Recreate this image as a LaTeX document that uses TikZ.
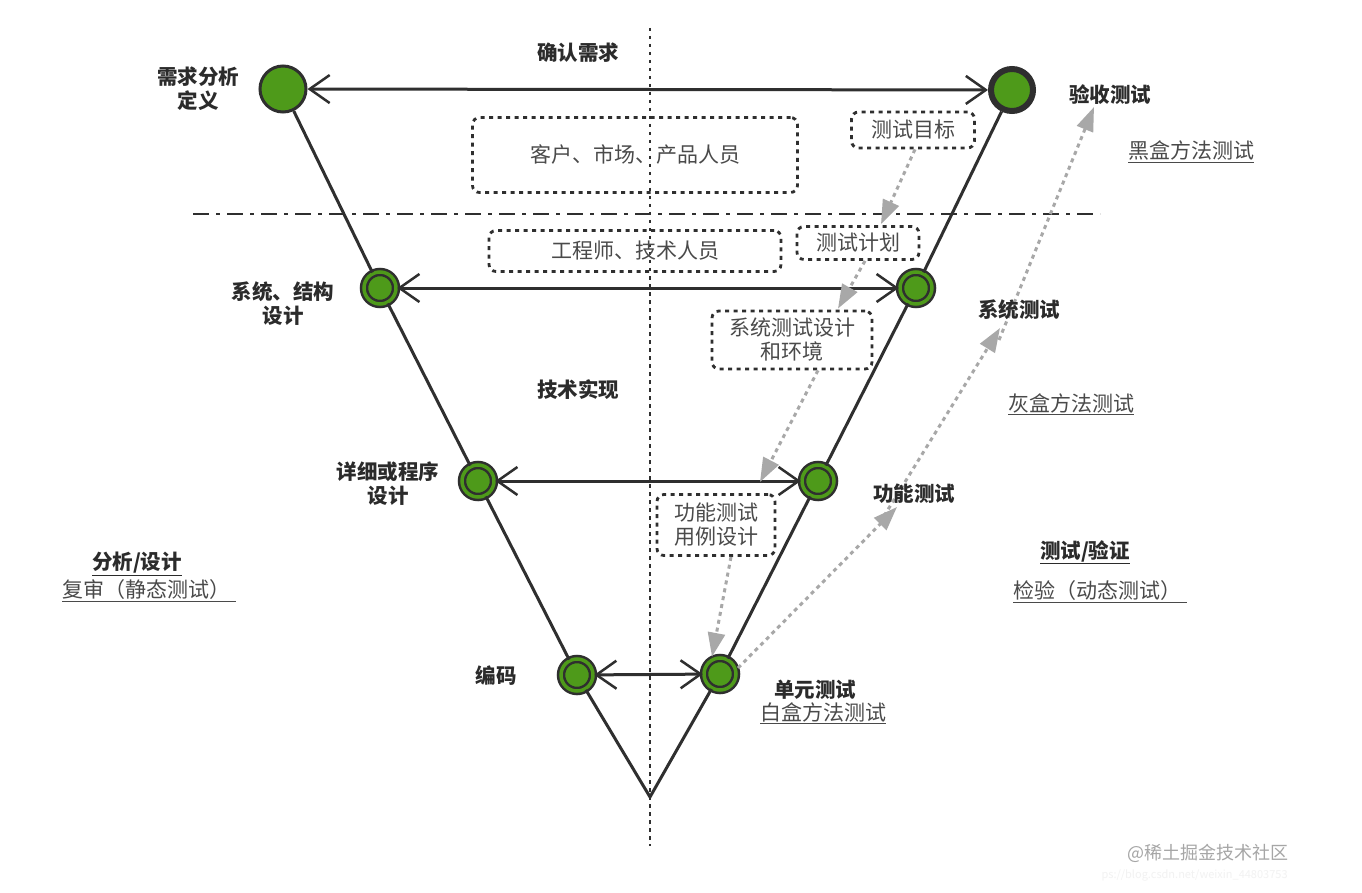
\documentclass[tikz,border=0pt]{standalone}
\usepackage{fontspec}
\setmainfont{Noto Sans CJK SC}
\usetikzlibrary{arrows.meta,calc}
\definecolor{vgreen}{HTML}{4E9A1A}
\definecolor{vdark}{HTML}{2F2F2F}
\definecolor{vtext}{HTML}{2B2B2B}
\definecolor{vgrey}{HTML}{4A4A4A}
\definecolor{varrow}{HTML}{A8A8A8}
\begin{document}
\begin{tikzpicture}[x=1pt,y=-1pt,
  every node/.style={font=\fontsize{21}{24}\selectfont},
  bnode/.style={circle,fill=vgreen,draw=vdark,line width=3pt,minimum size=46pt,inner sep=0pt},
  tnode/.style={circle,fill=vgreen,draw=vdark,line width=6pt,minimum size=42pt,inner sep=0pt},
  dnode/.style={circle,fill=vgreen,draw=vdark,line width=2.5pt,double=vgreen,double distance=3.5pt,minimum size=32pt,inner sep=0pt},
  vline/.style={draw=vdark,line width=3pt},
  biarrow/.style={vline,{Straight Barb[length=20pt,width=28pt,line width=2.5pt]}-{Straight Barb[length=20pt,width=28pt,line width=2.5pt]}},
  dbox/.style={draw=vdark,line width=2.8pt,dash pattern=on 4pt off 4.5pt,rounded corners=7pt,text=vgrey,align=center,inner sep=0pt},
  garrow/.style={draw=varrow,line width=3pt,dash pattern=on 4pt off 4pt,-{Triangle[length=24pt,width=17pt]}},
  blabel/.style={text=vtext,font=\fontsize{20.5}{24}\selectfont\bfseries,align=center},
  ulabel/.style={text=vgrey,align=center}
]
\useasboundingbox[fill=white] (0,0) rectangle (1362,893);

% guide lines
\coordinate (vtop) at (650,28);
\coordinate (vbot) at (650,846);
\draw[vdark,line width=2.8pt,dash pattern=on 3.5pt off 4.5pt] (vtop) -- (vbot);
\coordinate (hl) at (193,214);
\coordinate (hr) at (1100,214);
\draw[vdark,line width=2.8pt,dash pattern=on 16pt off 7pt on 4pt off 7pt] (hl) -- (hr);

% nodes
\coordinate (apex) at (650,797);
\node[bnode] (tl) at (283,89) {};
\node[tnode] (tr) at (1012,90) {};
\node[dnode] (l2) at (380,288) {};
\node[dnode] (l3) at (478,481) {};
\node[dnode] (l4) at (577,675) {};
\node[dnode] (r2) at (916,288) {};
\node[dnode] (r3) at (818,481) {};
\node[dnode] (r4) at (720,674) {};

% V lines
\draw[vline] (tl) -- (l2);
\draw[vline] (l2) -- (l3);
\draw[vline] (l3) -- (l4);
\draw[vline,line join=miter] (l4) -- (apex) -- (r4);
\draw[vline] (r4) -- (r3);
\draw[vline] (r3) -- (r2);
\draw[vline] (r2) -- (tr);

% horizontal arrows
\draw[biarrow] (tl) -- (tr);
\draw[biarrow] (l2) -- (r2);
\draw[biarrow] (l3) -- (r3);
\draw[biarrow] (l4) -- (r4);

% dashed boxes
\node[dbox,minimum width=325pt,minimum height=75pt] (b1) at (635,155) {客户、市场、产品人员};
\node[dbox,minimum width=123pt,minimum height=36pt] (b2) at (913,130) {测试目标};
\node[dbox,minimum width=292pt,minimum height=41pt] (b3) at (635,251) {工程师、技术人员};
\node[dbox,minimum width=122pt,minimum height=33pt] (b4) at (858,243) {测试计划};
\node[dbox,minimum width=160pt,minimum height=58pt] (b5) at (792,340) {系统测试设计\\和环境};
\node[dbox,minimum width=118pt,minimum height=61pt] (b6) at (716,525) {功能测试\\用例设计};

% grey arrows
\coordinate (e3) at (760,482);
\coordinate (u1) at (738,668);
\coordinate (f1) at (897,507);
\coordinate (f1s) at (884,516);
\coordinate (s1) at (1000,328);
\coordinate (s1s) at (999,340);
\coordinate (a1) at (1094,107);
\draw[garrow] ([xshift=2pt]b2.south) -- ([xshift=23pt,yshift=1pt]b4.north);
\draw[garrow] ([xshift=7pt]b4.south) -- ([xshift=46pt,yshift=1pt]b5.north);
\draw[garrow] ([xshift=26pt]b5.south) -- (e3);
\draw[garrow] ([xshift=15pt]b6.south) -- ([xshift=-8pt]r4.north);
\draw[garrow] (u1) -- (f1);
\draw[garrow] (f1s) -- (s1);
\draw[garrow] (s1s) -- (a1);

% labels
\node[blabel] (t1) at (198,89) {需求分析\\定义};
\node[blabel] (t2) at (578,53) {确认需求};
\node[blabel] (t3) at (1110,95) {验收测试};
\node[ulabel] (t4) at (1191,152) {\underline{黑盒方法测试}};
\node[blabel] (t5) at (283,304) {系统、结构\\设计};
\node[blabel] (t6) at (1019,310) {系统测试};
\node[blabel] (t7) at (578,390) {技术实现};
\node[ulabel] (t8) at (1071,404) {\underline{灰盒方法测试}};
\node[blabel] (t9) at (388,484) {详细或程序\\设计};
\node[blabel] (t10) at (914,494) {功能测试};
\node[blabel] (t11) at (137,564) {\underline{分析/设计}};
\node[ulabel] (t12) at (149,591) {\underline{复审（静态测试）\hspace{6pt}}};
\node[blabel] (t13) at (1085,552) {\underline{测试/验证}};
\node[ulabel] (t14) at (1100,592) {\underline{检验（动态测试）\hspace{6pt}}};
\node[blabel] (t15) at (496,676) {编码};
\node[blabel] (t16) at (815,690) {单元测试};
\node[ulabel] (t17) at (823,713) {\underline{白盒方法测试}};

% watermark
\node[text=black!35,font=\fontsize{18}{20}\selectfont] (w1) at (1208,853) {@稀土掘金技术社区};
\node[text=black!5,font=\fontsize{11}{12}\selectfont,anchor=west] (w2) at (1098,875) {ps://blog.csdn.net/weixin\_44803753};
\end{tikzpicture}
\end{document}
